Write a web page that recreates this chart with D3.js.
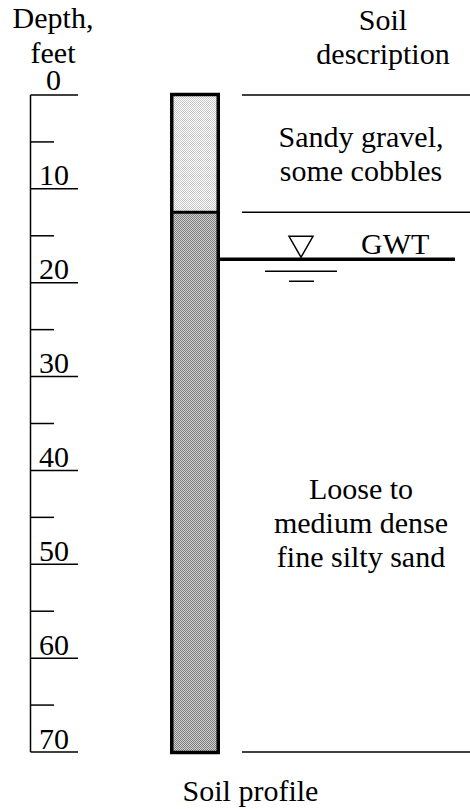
<!DOCTYPE html>
<html>
<head>
<meta charset="utf-8">
<script src="https://cdn.jsdelivr.net/npm/d3@7"></script>
<style>
  html, body { margin: 0; padding: 0; background: #fff; }
  svg { display: block; }
  text { font-family: "Liberation Serif", "Times New Roman", serif; fill: #000; }
</style>
</head>
<body>
<script>
// ---- data ----
const majorTicks = [0, 10, 20, 30, 40, 50, 60, 70];
const minorTicks = [5, 15, 25, 35, 45, 55, 65];
const layerTop = [0, 12.5];
const layerBottom = [12.5, 70];
const layerLabels = [["Sandy gravel,", "some cobbles"], ["Loose to", "medium dense", "fine silty sand"]];
const layerLabelDepth = [7.3, 46.7];
const boundaryDepths = [0, 12.5, 70];
const gwtDepth = 17.5;
const axisTitle = ["Depth,", "feet"];
const descTitle = ["Soil", "description"];
const bottomTitle = "Soil profile";

const W = 470, H = 809;
const svg = d3.select("body").append("svg").attr("width", W).attr("height", H);

const defs = svg.append("defs");
function checker(id, c1, c2) {
  const p = defs.append("pattern").attr("id", id).attr("patternUnits", "userSpaceOnUse")
    .attr("width", 2).attr("height", 2);
  p.append("rect").attr("width", 2).attr("height", 2).attr("fill", c1);
  p.append("rect").attr("width", 1).attr("height", 1).attr("fill", c2);
  p.append("rect").attr("x", 1).attr("y", 1).attr("width", 1).attr("height", 1).attr("fill", c2);
}
checker("light", "#ffffff", "#c4c4c4");
checker("dark", "#cfcfcf", "#7e7e7e");
const fills = ["url(#light)", "url(#dark)"];

const y = d3.scaleLinear().domain([0, 70]).range([95, 752]);
const fs = 30;

// Left depth axis
const axisX = 30.5;
svg.append("line").attr("x1", axisX).attr("x2", axisX).attr("y1", y(0)).attr("y2", y(70))
  .attr("stroke", "#000").attr("stroke-width", 1.5);
svg.selectAll(".maj").data(majorTicks).enter().append("line")
  .attr("x1", axisX).attr("x2", 78).attr("y1", d => y(d)).attr("y2", d => y(d))
  .attr("stroke", "#000").attr("stroke-width", 1.5);
svg.selectAll(".min").data(minorTicks).enter().append("line")
  .attr("x1", axisX).attr("x2", 54).attr("y1", d => y(d)).attr("y2", d => y(d))
  .attr("stroke", "#000").attr("stroke-width", 1.5);
svg.selectAll(".tl").data(majorTicks.filter(d => d > 0)).enter().append("text")
  .attr("x", 39).attr("y", d => y(d) - 3.5).attr("font-size", fs).text(d => d);
svg.append("text").attr("x", 53.5).attr("y", y(0) - 5).attr("text-anchor", "middle")
  .attr("font-size", fs).text(majorTicks[0]);
axisTitle.forEach((t, i) => {
  svg.append("text").attr("x", 53).attr("y", 28 + i * 35).attr("text-anchor", "middle")
    .attr("font-size", fs).text(t);
});

// Soil column
const colL = 171.75, colR = 218.25;
layerTop.forEach((t, i) => {
  svg.append("rect").attr("x", colL).attr("y", y(t)).attr("width", colR - colL)
    .attr("height", y(layerBottom[i]) - y(t)).attr("fill", fills[i]);
});
svg.append("line").attr("x1", colL).attr("x2", colR).attr("y1", y(layerBottom[0])).attr("y2", y(layerBottom[0]))
  .attr("stroke", "#000").attr("stroke-width", 3);
svg.append("rect").attr("x", colL).attr("y", y(0) - 0.5).attr("width", colR - colL)
  .attr("height", y(70) - y(0) + 1).attr("fill", "none").attr("stroke", "#000").attr("stroke-width", 3.5);

// Boundary lines on the right
svg.selectAll(".bd").data(boundaryDepths).enter().append("line")
  .attr("x1", 242).attr("x2", 470).attr("y1", d => y(d)).attr("y2", d => y(d))
  .attr("stroke", "#000").attr("stroke-width", 1.5);

// Header
descTitle.forEach((t, i) => {
  svg.append("text").attr("x", 383).attr("y", 30 + i * 34).attr("text-anchor", "middle")
    .attr("font-size", fs).text(t);
});

// Layer labels
layerLabels.forEach((lines, i) => {
  const mid = y(layerLabelDepth[i]);
  const n = lines.length;
  lines.forEach((t, j) => {
    svg.append("text").attr("x", 361).attr("y", mid + (j - (n - 1) / 2) * 34)
      .attr("text-anchor", "middle").attr("font-size", fs).text(t);
  });
});

// GWT
const gy = y(gwtDepth);
svg.append("line").attr("x1", colR).attr("x2", 455).attr("y1", gy).attr("y2", gy)
  .attr("stroke", "#000").attr("stroke-width", 3.5);
svg.append("path").attr("d", `M289,${gy - 23}L313,${gy - 23}L301,${gy - 2}Z`)
  .attr("fill", "#fff").attr("stroke", "#000").attr("stroke-width", 1.5);
svg.append("line").attr("x1", 265).attr("x2", 337).attr("y1", gy + 12).attr("y2", gy + 12)
  .attr("stroke", "#000").attr("stroke-width", 1.5);
svg.append("line").attr("x1", 289).attr("x2", 314).attr("y1", gy + 22).attr("y2", gy + 22)
  .attr("stroke", "#000").attr("stroke-width", 1.5);
svg.append("text").attr("x", 361).attr("y", gy - 5).attr("font-size", fs).text("GWT");

// Bottom title
svg.append("text").attr("x", 250.5).attr("y", 801).attr("text-anchor", "middle")
  .attr("font-size", fs).text(bottomTitle);
</script>
</body>
</html>
